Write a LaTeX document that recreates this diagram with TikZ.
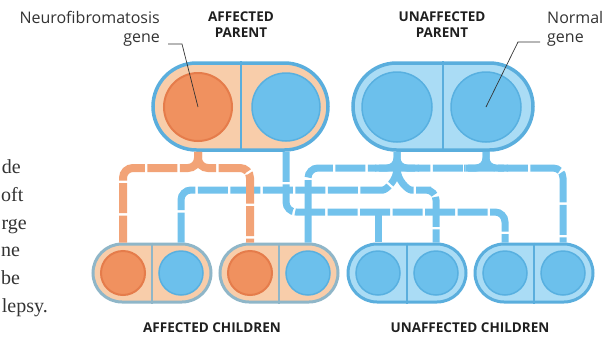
\documentclass[tikz,border=0pt]{standalone}
\usepackage{fontspec}
\setmainfont{Open Sans}
\newfontfamily\bodyserif{Liberation Serif}
\usetikzlibrary{shapes.misc,calc}
\definecolor{orC}{HTML}{F0915F}
\definecolor{orR}{HTML}{E57C4B}
\definecolor{peach}{HTML}{F8CDAA}
\definecolor{bluC}{HTML}{6CC0EC}
\definecolor{bluR}{HTML}{58B0E0}
\definecolor{bluF}{HTML}{AADCF5}
\definecolor{capB}{HTML}{5AAEDD}
\definecolor{childB}{HTML}{8FB6C8}
\definecolor{lineO}{HTML}{F2A377}
\definecolor{lineB}{HTML}{72C2EC}
\definecolor{txt}{HTML}{333333}
\tikzset{
  pcap/.style={rounded rectangle, draw=capB, line width=3.5pt, minimum height=87pt, inner sep=0pt},
  ccap/.style={rounded rectangle, line width=3pt, minimum width=118pt, minimum height=58pt, inner sep=0pt},
  gor/.style={circle, fill=orC, draw=orR, line width=2pt, inner sep=0pt},
  gbl/.style={circle, fill=bluC, draw=bluR, line width=1.5pt, inner sep=0pt},
  oline/.style={draw=lineO, line width=8pt, dash pattern=on 30pt off 2.5pt, rounded corners=10pt},
  bline/.style={draw=lineB, line width=7pt, dash pattern=on 30pt off 2.5pt, rounded corners=10pt},
  leader/.style={draw=txt, line width=0.7pt},
  lab/.style={font=\fontsize{16}{19}\selectfont, text=txt, inner sep=0pt},
  blab/.style={font=\fontsize{13.5}{16}\selectfont\bfseries, text=black!88, inner sep=0pt, align=center},
  frag/.style={font=\fontsize{20}{22}\selectfont\bodyserif, text=txt, inner sep=0pt, anchor=base east},
  fragw/.style={font=\fontsize{20}{22}\selectfont\bodyserif, text=txt, inner sep=0pt, anchor=base west}
}
\begin{document}
\begin{tikzpicture}[x=1pt,y=-1pt]
\useasboundingbox (0,0) rectangle (606,338);
% parents
\node[pcap, fill=peach, minimum width=175pt] (ap) at (240.5,106.5) {};
\node[pcap, fill=bluF, minimum width=180pt] (up) at (443,106.5) {};
\draw[capB, line width=2pt] (ap.north) -- (ap.south);
\draw[capB, line width=2pt] (up.north) -- (up.south);
\node[gor, minimum size=68pt] (apA) at (198,107) {};
\node[gbl, minimum size=68pt] (apB) at (286,107) {};
\node[gbl, minimum size=70pt] (upA) at (397,107) {};
\node[gbl, minimum size=70pt] (upB) at (486,107) {};
% children
\node[ccap, fill=peach, draw=childB] (c1) at (152,273) {};
\node[ccap, fill=peach, draw=childB] (c2) at (279,273) {};
\node[ccap, fill=bluF, draw=capB] (c3) at (407,273) {};
\node[ccap, fill=bluF, draw=capB] (c4) at (534,273) {};
\draw[childB, line width=1.5pt] (c1.north) -- (c1.south);
\draw[childB, line width=1.5pt] (c2.north) -- (c2.south);
\draw[capB, line width=1.5pt] (c3.north) -- (c3.south);
\draw[capB, line width=1.5pt] (c4.north) -- (c4.south);
\node[gor, minimum size=44pt] (c1a) at (123,273) {};
\node[gbl, minimum size=44pt] (c1b) at (181,273) {};
\node[gor, minimum size=44pt] (c2a) at (250,273) {};
\node[gbl, minimum size=44pt] (c2b) at (308,273) {};
\node[gbl, minimum size=44pt] (c3a) at (378,273) {};
\node[gbl, minimum size=44pt] (c3b) at (436,273) {};
\node[gbl, minimum size=44pt] (c4a) at (505,273) {};
\node[gbl, minimum size=44pt] (c4b) at (563,273) {};
% bar levels
\coordinate (h1) at (0,168);
\coordinate (h2) at (0,190);
\coordinate (h3) at (0,212);
% blue connectors
\draw[bline] (apB |- ap.south) -- (apB |- h3) -- (c4a |- h3) -- (c4a |- c4.north);
\draw[bline, rounded corners=0pt] (c3a |- h3) -- (c3a |- c3.north);
\draw[bline] (c2b |- c2.north) -- (c2b |- h1) -- (c4b |- h1) -- (c4b |- c4.north);
\draw[bline] (c1b |- c1.north) -- (c1b |- h2) -- ($(upA |- h2)+(-24,0)$) to[out=0,in=-90] (upA |- h1);
\draw[bline] (upA |- h1) to[out=-90,in=180] ($(upA |- h2)+(24,0)$) -- (c3b |- h2) -- (c3b |- c3.north);
\draw[bline] (upA |- up.south) -- (upA |- h1) -- ++(-22,0);
\draw[bline] (upA |- up.south) -- (upA |- h1) -- ++(22,0);
\draw[bline] (upB |- up.south) -- (upB |- h1) -- ++(-22,0);
\draw[bline] (upB |- up.south) -- (upB |- h1) -- ++(22,0);
% orange connectors
\draw[oline] (apA |- ap.south) -- (apA |- h1) -- (c1a |- h1) -- (c1a |- c1.north);
\draw[oline] (apA |- ap.south) -- (apA |- h1) -- (c2a |- h1) -- (c2a |- c2.north);
% labels
\node[lab, anchor=east] (nf1) at (160,17) {Neurofibromatosis};
\node[lab, anchor=east] (nf2) at (160,40) {gene};
\draw[leader] ($(nf2.east)+(8,4)$) coordinate (l1) -- ++(14,0) -- (apA.center);
\node[lab, anchor=west] (nm1) at (547,17) {Normal};
\node[lab, anchor=west] (nm2) at (547,40) {gene};
\draw[leader] ($(nm2.west)+(-7,2)$) coordinate (l2) -- ++(-22,0) -- (upB.center);
\node[blab] (apl) at (241,25) {AFFECTED\\PARENT};
\node[blab] (upl) at (442,25) {UNAFFECTED\\PARENT};
\node[blab] (acl) at (212,328) {AFFECTED CHILDREN};
\node[blab] (ucl) at (470,328) {UNAFFECTED CHILDREN};
% cut-off body text
\node[frag] (f1) at (21,173) {de};
\node[fragw] (f2) at (1,201) {oft};
\node[frag] (f3) at (27,229) {rge};
\node[fragw] (f4) at (1,256) {ne};
\node[fragw] (f5) at (1,284) {be};
\node[frag] (f6) at (48,312) {lepsy.};
\end{tikzpicture}
\end{document}
